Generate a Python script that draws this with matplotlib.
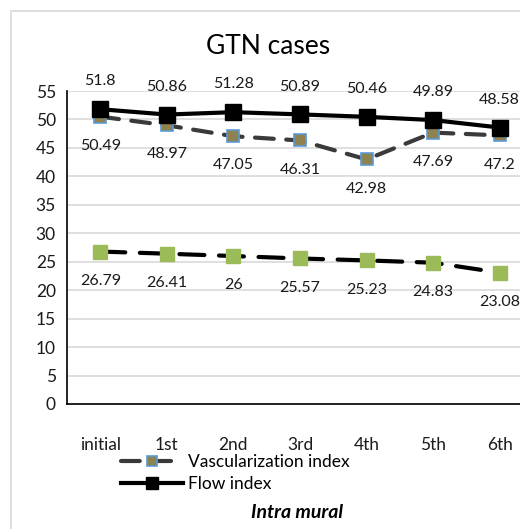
import matplotlib.pyplot as plt
import matplotlib.patches as patches

# chart values
stages = ["initial", "1st", "2nd", "3rd", "4th", "5th", "6th"]
flow_index = [51.8, 50.86, 51.28, 50.89, 50.46, 49.89, 48.58]
vasc_index = [50.49, 48.97, 47.05, 46.31, 42.98, 47.69, 47.2]
lower_series = [26.79, 26.41, 26, 25.57, 25.23, 24.83, 23.08]
y_ticks = list(range(0, 60, 5))

plt.rcParams['font.family'] = ['Lato', 'DejaVu Sans']

W, H = 520, 529
fig = plt.figure(figsize=(W / 100, H / 100), dpi=100)

# outer chart border (cropped on right and bottom)
fig.patches.append(patches.Rectangle((11 / W, -0.1), 1.2, 1.1 - 11 / H,
                                     transform=fig.transFigure, fill=False,
                                     edgecolor='#d9d9d9', linewidth=1.2))

ax = fig.add_axes([67 / W, 1 - 404 / H, 466 / W, 313 / H])
x = list(range(len(stages)))

ax.plot(x, vasc_index, color='#3a3a3a', linewidth=3, linestyle=(0, (4.5, 3)),
        dash_capstyle='round', marker='s', markersize=9,
        markerfacecolor='#8e8350', markeredgecolor='#5b9bd5',
        markeredgewidth=1.2, label='Vascularization index', zorder=3)
ax.plot(x, flow_index, color='black', linewidth=3, marker='s', markersize=11,
        label='Flow index', zorder=4)
ax.plot(x, lower_series, color='black', linewidth=3, linestyle=(0, (6, 3.5)),
        dash_capstyle='round', marker='s', markersize=10,
        markerfacecolor='#9bbb59', markeredgecolor='#9bbb59',
        label='_nolegend_', zorder=3)

lab_kw = dict(textcoords='offset points', ha='center', va='center',
              fontsize=11.5, color='#1a1a1a', annotation_clip=False)
for xi, v in zip(x, flow_index):
    ax.annotate(f"{v:g}", (xi, v), xytext=(0, 20), **lab_kw)
for xi, v in zip(x, vasc_index):
    ax.annotate(f"{v:g}", (xi, v), xytext=(0, -21), **lab_kw)
for xi, v in zip(x, lower_series):
    ax.annotate(f"{v:g}", (xi, v), xytext=(0, -21), **lab_kw)

ax.set_xlim(-0.5, 6.5)
ax.set_ylim(0, 55)
ax.set_yticks(y_ticks)
ax.set_xticks(x)
ax.set_xticklabels(stages)
ax.tick_params(axis='both', length=0, labelsize=12.5, colors='#1a1a1a')
ax.tick_params(axis='x', pad=24)
ax.tick_params(axis='y', pad=8)
ax.yaxis.grid(True, color='#d9d9d9', linewidth=1.2)
ax.set_axisbelow(True)
for side in ['top', 'right']:
    ax.spines[side].set_visible(False)
for side in ['left', 'bottom']:
    ax.spines[side].set_color('black')
    ax.spines[side].set_linewidth(1.2)

fig.text(268 / W, 1 - 47 / H, "GTN cases", ha='center', va='center',
         fontsize=19, color='black')

fig.legend(loc='center left', bbox_to_anchor=(112 / W, 1 - 473 / H),
           frameon=False, fontsize=12.5, handlelength=3.6, handletextpad=0.3,
           labelspacing=0.3, borderpad=0, markerscale=0.85)

fig.text(297 / W, 1 - 512 / H, "Intra mural", ha='center', va='center',
         fontsize=14, fontweight='bold', fontstyle='italic', color='black')

fig.savefig('out.png', dpi=100)
